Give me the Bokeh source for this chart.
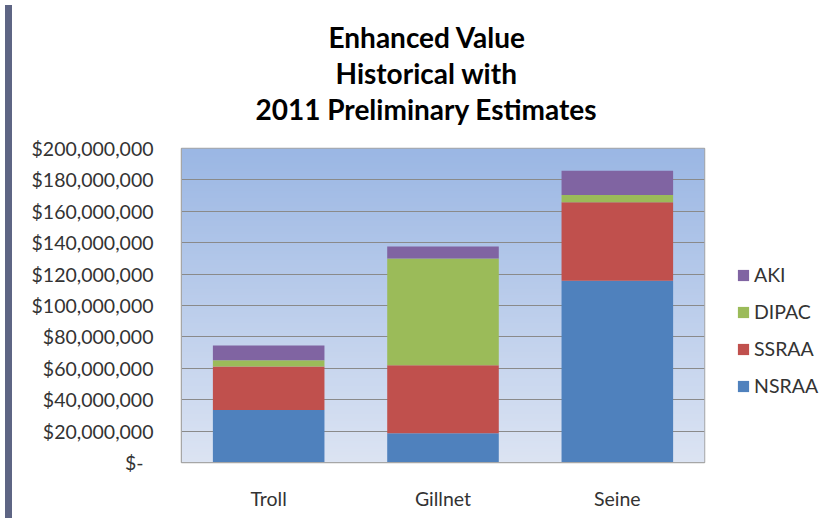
import numpy as np
from bokeh.plotting import figure
from bokeh.layouts import row
from bokeh.models import (Range1d, FactorRange, FixedTicker, CustomJSTickFormatter,
                          Legend, LegendItem, Title, Div)
from bokeh.embed import file_html
from bokeh.resources import INLINE

# ---- data ----
categories = ["Troll", "Gillnet", "Seine"]
series_names = ["NSRAA", "SSRAA", "DIPAC", "AKI"]
NSRAA = [33.4e6, 18.7e6, 115.8e6]
SSRAA = [27.8e6, 43.3e6, 49.9e6]
DIPAC = [4.0e6, 67.9e6, 4.7e6]
AKI = [9.4e6, 7.7e6, 15.4e6]
y_ticks = [0, 20e6, 40e6, 60e6, 80e6, 100e6, 120e6, 140e6, 160e6, 180e6, 200e6]
title_lines = ["Enhanced Value", "Historical with", "2011 Preliminary Estimates"]

colors = ["#4f81bd", "#c0504d", "#9bbb59", "#8064a2"]
FONT = "Lato"

source = dict(cat=categories, NSRAA=NSRAA, SSRAA=SSRAA, DIPAC=DIPAC, AKI=AKI)

p = figure(x_range=FactorRange(*categories, range_padding=0),
           y_range=Range1d(0, 200e6),
           width=690, height=513, output_backend="svg", toolbar_location=None,
           min_border_left=164, min_border_right=3, min_border_top=148,
           min_border_bottom=51)
p.title.visible = False
p.background_fill_color = "white"
p.border_fill_color = "white"
p.outline_line_color = "#a6a6a6"
p.outline_line_width = 1.5

# gradient plot-area background
top = np.array([155, 183, 228])
bot = np.array([220, 228, 243])
n = 200
t = np.linspace(0, 1, n)[:, None]
rgb = (bot * (1 - t) + top * t).astype(np.uint32)
img = np.zeros((n, 1), dtype=np.uint32)
view = img.view(dtype=np.uint8).reshape((n, 1, 4))
view[:, 0, 0] = rgb[:, 0]
view[:, 0, 1] = rgb[:, 1]
view[:, 0, 2] = rgb[:, 2]
view[:, 0, 3] = 255
bg = p.image_rgba(image=[img], x=0, y=0, dw=3, dh=200e6)
bg.level = "image"

rs = p.vbar_stack(series_names, x="cat", width=0.64, color=colors,
                  line_color=None, source=source)

# axes
p.yaxis.ticker = FixedTicker(ticks=y_ticks)
p.yaxis.formatter = CustomJSTickFormatter(
    code="return tick == 0 ? '$-\u00a0\u00a0' : '$' + Math.round(tick).toLocaleString('en-US');")
for ax in (p.xaxis, p.yaxis):
    ax.major_label_text_font = FONT
    ax.major_label_text_font_size = "19.5px"
    ax.major_label_text_color = "#333333"
    ax.major_tick_line_color = None
    ax.minor_tick_line_color = None
    ax.axis_line_color = "#a6a6a6"
p.yaxis.major_label_standoff = 22
p.xaxis.major_label_standoff = 18
p.xgrid.grid_line_color = None
p.ygrid.grid_line_color = "#8a8a8a"
p.ygrid.grid_line_width = 1

# spacer between plot area and title block
p.add_layout(Title(text="\u00a0", text_font_size="2px", standoff=19), "above")
# title lines (left aligned with offsets so each line is centred at the reference position)
offsets = [74, 154, 147]
for txt, off in zip(title_lines[::-1], offsets):
    p.add_layout(Title(text=txt, align="left", offset=off, standoff=0,
                       text_font=FONT, text_font_size="28px", text_font_style="bold",
                       text_color="#000000"), "above")

# legend in a narrow companion figure to the right of the plot area
p2 = figure(width=118, height=513, output_backend="svg", toolbar_location=None,
            x_range=FactorRange(*categories), y_range=Range1d(300e6, 400e6),
            x_axis_location=None, y_axis_location=None, min_border=0)
p2.title.visible = False
p2.grid.visible = False
p2.outline_line_color = None
p2.border_fill_color = "white"
p2.background_fill_color = "white"
rs2 = p2.vbar_stack(series_names, x="cat", width=0.64, color=colors,
                    line_color=None, source=source)
for r in rs2:
    r.visible = False
items = [LegendItem(label=name, renderers=[r]) for name, r in zip(series_names, rs2)]
legend = Legend(items=items[::-1], location=(29, 65), orientation="vertical",
                glyph_width=14, glyph_height=14, label_height=20, spacing=14,
                label_standoff=4, label_text_font=FONT, label_text_font_size="19.5px",
                label_text_color="#333333", padding=0, margin=0,
                border_line_color=None, background_fill_alpha=0,
                inactive_fill_alpha=0, click_policy="none")
p2.add_layout(legend, "center")

strip = Div(width=7, height=513, styles={"background-color": "#5e6584"})
layout = row(strip, p, p2, spacing=0)

open("out.html", "w").write(file_html(layout, INLINE))
